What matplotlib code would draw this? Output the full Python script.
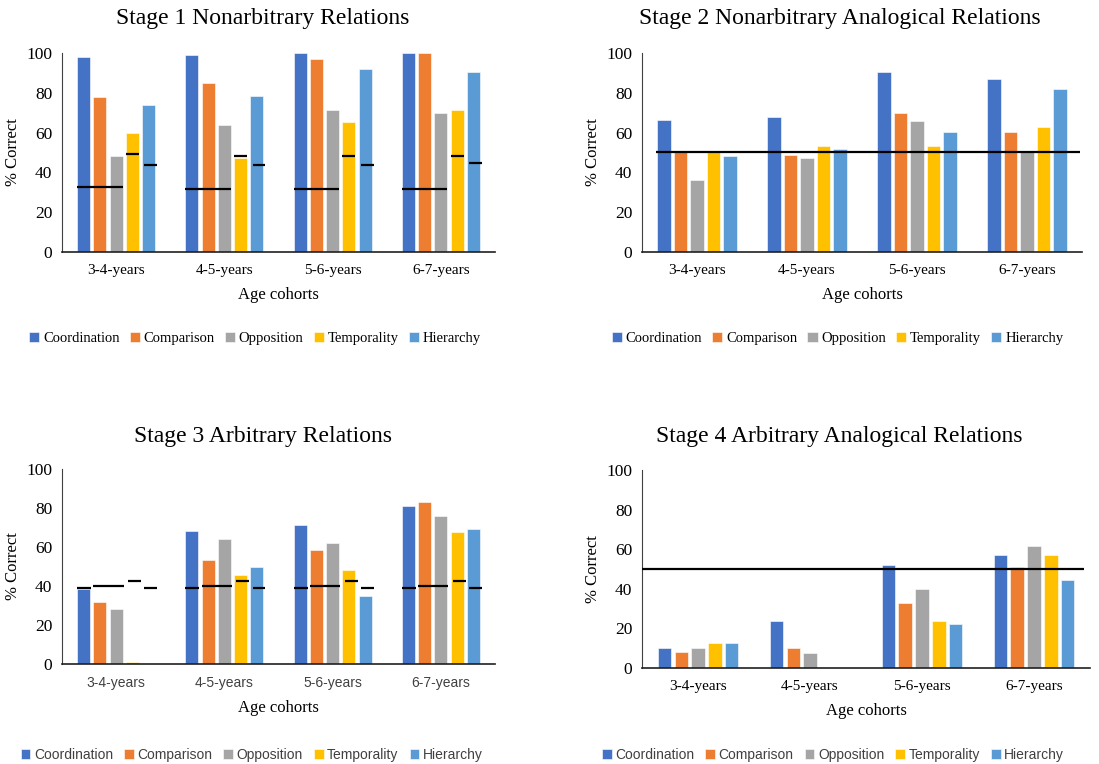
import numpy as np
import matplotlib
matplotlib.use("Agg")
import matplotlib.pyplot as plt

plt.rcParams['font.family'] = ['Liberation Serif', 'DejaVu Serif']

cohorts = ["3-4-years", "4-5-years", "5-6-years", "6-7-years"]
relations = ["Coordination", "Comparison", "Opposition", "Temporality", "Hierarchy"]
colors = ["#4472C4", "#ED7D31", "#A5A5A5", "#FFC000", "#5B9BD5"]

# stage 1 nonarbitrary relations, rows = relation, cols = cohort
stage1 = [
    [98, 99, 100, 100],
    [78, 85, 97, 100],
    [48, 64, 71.5, 70],
    [60, 47, 65.5, 71.5],
    [74, 78.5, 92, 90.5],
]
# chance markers stage 1 (coordination..opposition share one marker)
s1_ref_coo = [32.5, 31.8, 31.8, 31.8]
s1_ref_temp = [49, 48, 48, 48]
s1_ref_hier = [43.7, 43.7, 43.7, 44.5]

# stage 2 nonarbitrary analogical relations
stage2 = [
    [66.5, 68, 90.5, 87],
    [50, 48.5, 70, 60.5],
    [36.3, 47, 65.8, 51],
    [50, 53.5, 53.5, 63],
    [48.4, 52, 60.5, 82],
]
s2_chance = 50.3

# stage 3 arbitrary relations
stage3 = [
    [38.5, 68, 71.5, 81],
    [32, 53.5, 58.5, 83],
    [28, 64, 62, 76],
    [1.2, 45.5, 48, 67.5],
    [0, 50, 35, 69],
]
s3_ref_coord = [39, 39, 39, 39]
s3_ref_compopp = [40, 40, 40, 40]
s3_ref_temp = [42.5, 42.5, 42.5, 42.5]
s3_ref_hier = [39, 39, 39, 39]

# stage 4 arbitrary analogical relations
stage4 = [
    [10, 23.5, 52, 57],
    [8.3, 10, 33, 51],
    [10, 7.5, 40, 61.5],
    [12.5, 0, 23.5, 57],
    [12.5, 0, 22, 44.5],
]
s4_chance = 50

titles = ["Stage 1 Nonarbitrary Relations", "Stage 2 Nonarbitrary Analogical Relations",
          "Stage 3 Arbitrary Relations", "Stage 4 Arbitrary Analogical Relations"]

step = 0.15
width = 0.12
offsets = (np.arange(5) - 2) * step
x = np.arange(len(cohorts))

fig = plt.figure(figsize=(10.99, 7.64), dpi=100)

positions = [
    [0.0564, 0.6702, 0.394, 0.2604],
    [0.5842, 0.6702, 0.4004, 0.2604],
    [0.0564, 0.1309, 0.394, 0.2552],
    [0.5842, 0.1257, 0.4076, 0.2592],
]
title_xy = [(0.239, 0.976), (0.764, 0.976), (0.239, 0.429), (0.764, 0.429)]
legend_xy = [(0.232, 0.557), (0.762, 0.557), (0.229, 0.012), (0.758, 0.012)]
sans = ['Liberation Sans', 'DejaVu Sans']
serif = ['Liberation Serif', 'DejaVu Serif']
tick_fonts = [serif, serif, sans, serif]
tick_sizes = [11, 11, 10, 11]
legend_fonts = [serif, serif, sans, sans]
datasets = [stage1, stage2, stage3, stage4]

for i, data in enumerate(datasets):
    ax = fig.add_axes(positions[i])
    for j, rel in enumerate(relations):
        ax.bar(x + offsets[j], data[j], width, color=colors[j], label=rel,
               edgecolor="white", linewidth=0.4, zorder=2)

    if i == 0:
        for k in x:
            ax.hlines(s1_ref_coo[k], k + offsets[0] - width / 2, k + offsets[2] + width / 2,
                      color="black", lw=1.6, zorder=3)
            ax.hlines(s1_ref_temp[k], k + offsets[3] - width / 2, k + offsets[3] + width / 2,
                      color="black", lw=1.6, zorder=3)
            ax.hlines(s1_ref_hier[k], k + offsets[4] - width / 2 + 0.02, k + offsets[4] + width / 2 + 0.02,
                      color="black", lw=1.6, zorder=3)
    elif i == 2:
        for k in x:
            ax.hlines(s3_ref_coord[k], k + offsets[0] - width / 2, k + offsets[0] + width / 2 + 0.01,
                      color="black", lw=1.6, zorder=3)
            ax.hlines(s3_ref_compopp[k], k + offsets[1] - width / 2, k + offsets[2] + width / 2 + 0.01,
                      color="black", lw=1.6, zorder=3)
            ax.hlines(s3_ref_temp[k], k + offsets[3] - width / 2 + 0.02, k + offsets[3] + width / 2 + 0.02,
                      color="black", lw=1.6, zorder=3)
            ax.hlines(s3_ref_hier[k], k + offsets[4] - width / 2 + 0.02, k + offsets[4] + width / 2 + 0.02,
                      color="black", lw=1.6, zorder=3)
    elif i == 1:
        ax.hlines(s2_chance, -0.37, 3.48, color="black", lw=1.6, zorder=3)
    else:
        ax.hlines(s4_chance, -0.5, 3.45, color="black", lw=1.6, zorder=3)

    ax.set_xlim(-0.5, 3.5)
    ax.set_ylim(0, 100)
    ax.set_yticks([0, 20, 40, 60, 80, 100])
    ax.set_xticks(x)
    ax.set_xticklabels(cohorts, family=tick_fonts[i], fontsize=tick_sizes[i],
                       color="#404040" if i == 2 else "black")
    for lbl in ax.get_yticklabels():
        lbl.set_family(serif)
        lbl.set_fontsize(12.5)
    ax.tick_params(length=0, pad=7)
    ax.tick_params(axis="x", pad=9)
    for s in ["top", "right"]:
        ax.spines[s].set_visible(False)
    ax.spines["left"].set_color("#404040")
    ax.spines["bottom"].set_color("#202020")
    ax.spines["bottom"].set_linewidth(1.2)
    ax.set_ylabel("% Correct", fontsize=12, labelpad=4)
    ax.set_xlabel("Age cohorts", fontsize=12, labelpad=7)

    fig.text(title_xy[i][0], title_xy[i][1], titles[i], ha="center", va="center", fontsize=17)

    is_serif = legend_fonts[i] == serif
    leg = ax.legend(loc="center", bbox_to_anchor=legend_xy[i], bbox_transform=fig.transFigure,
                    ncol=5, frameon=False, handlelength=0.7, handleheight=0.7,
                    handletextpad=0.25, columnspacing=0.7 if is_serif else 0.8,
                    prop={"family": legend_fonts[i], "size": 10.5 if is_serif else 10})
    for t in leg.get_texts():
        t.set_color("black" if is_serif else "#404040")

fig.savefig("out.png", dpi=100)
